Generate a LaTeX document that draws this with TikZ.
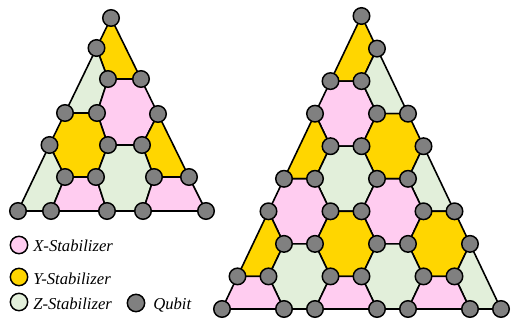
\documentclass[tikz,border=0pt]{standalone}
\usepackage{fontspec}
\setmainfont{Liberation Serif}
\usepackage{tikz}

\definecolor{xpink}{RGB}{255,204,240}
\definecolor{ygold}{RGB}{255,214,0}
\definecolor{zgreen}{RGB}{226,239,218}
\definecolor{qgray}{RGB}{128,128,128}

\begin{document}
\begin{tikzpicture}[x=0.75pt,y=0.75pt,yscale=-1,xscale=1,
  face/.style={draw=black,line width=1.2pt,line join=round},
  xstab/.style={face,fill=xpink},
  ystab/.style={face,fill=ygold},
  zstab/.style={face,fill=zgreen},
  qubit/.style={circle,draw=black,fill=qgray,line width=1.1pt,inner sep=0pt,minimum size=12.4pt},
  keydot/.style={circle,draw=black,line width=1.1pt,inner sep=0pt,minimum size=13pt},
  keytext/.style={anchor=base west,inner sep=0.75pt,font=\fontsize{12.5}{15}\selectfont\itshape}]
\useasboundingbox (0,0) rectangle (511,323);

%Qubits: small patch
\coordinate (p01) at (111,18);
\coordinate (p11) at (96.5,48);
\coordinate (p21) at (108,79);   \coordinate (p22) at (141,79);
\coordinate (p31) at (65,113);   \coordinate (p32) at (97,113);   \coordinate (p33) at (158,114);
\coordinate (p41) at (49.5,145); \coordinate (p42) at (108,145);  \coordinate (p43) at (142,145);
\coordinate (p51) at (65,177);   \coordinate (p52) at (96,177);   \coordinate (p53) at (154,177);  \coordinate (p54) at (189,177);
\coordinate (p61) at (18,211);   \coordinate (p62) at (51,211);   \coordinate (p63) at (107,211);  \coordinate (p64) at (143,211);  \coordinate (p65) at (206,211);

%Qubits: large patch
\coordinate (q01) at (361.5,16);
\coordinate (q11) at (377,48.6);
\coordinate (q21) at (330.5,81.1); \coordinate (q22) at (361.5,81.1);
\coordinate (q31) at (315,113.7);  \coordinate (q32) at (377,113.7);  \coordinate (q33) at (408,113.7);
\coordinate (q41) at (330.5,146.2); \coordinate (q42) at (361.5,146.2); \coordinate (q43) at (423.5,146.2);
\coordinate (q51) at (284,178.8);  \coordinate (q52) at (315,178.8);  \coordinate (q53) at (377,178.8);  \coordinate (q54) at (408,178.8);
\coordinate (q61) at (268.5,211.3); \coordinate (q62) at (330.5,211.3); \coordinate (q63) at (361.5,211.3); \coordinate (q64) at (423.5,211.3); \coordinate (q65) at (454.5,211.3);
\coordinate (q71) at (284,243.9);  \coordinate (q72) at (315,243.9);  \coordinate (q73) at (377,243.9);  \coordinate (q74) at (408,243.9);  \coordinate (q75) at (470,243.9);
\coordinate (q81) at (237.5,276.4); \coordinate (q82) at (268.5,276.4); \coordinate (q83) at (330.5,276.4); \coordinate (q84) at (361.5,276.4); \coordinate (q85) at (423.5,276.4); \coordinate (q86) at (454.5,276.4);
\coordinate (q91) at (222,309);    \coordinate (q92) at (284,309);    \coordinate (q93) at (315,309);    \coordinate (q94) at (377,309);    \coordinate (q95) at (408,309);    \coordinate (q96) at (470,309);    \coordinate (q97) at (501,309);

%Stabilizers: small patch
\draw [ystab] (p01) -- (p11) -- (p21) -- (p22) -- cycle;
\draw [zstab] (p11) -- (p21) -- (p32) -- (p31) -- cycle;
\draw [xstab] (p21) -- (p22) -- (p33) -- (p43) -- (p42) -- (p32) -- cycle;
\draw [ystab] (p31) -- (p32) -- (p42) -- (p52) -- (p51) -- (p41) -- cycle;
\draw [ystab] (p33) -- (p54) -- (p53) -- (p43) -- cycle;
\draw [zstab] (p41) -- (p51) -- (p62) -- (p61) -- cycle;
\draw [xstab] (p51) -- (p52) -- (p63) -- (p62) -- cycle;
\draw [zstab] (p42) -- (p43) -- (p53) -- (p64) -- (p63) -- (p52) -- cycle;
\draw [xstab] (p53) -- (p54) -- (p65) -- (p64) -- cycle;

%Stabilizers: large patch
\draw [ystab] (q01) -- (q11) -- (q22) -- (q21) -- cycle;
\draw [xstab] (q21) -- (q22) -- (q32) -- (q42) -- (q41) -- (q31) -- cycle;
\draw [zstab] (q11) -- (q33) -- (q32) -- (q22) -- cycle;
\draw [ystab] (q31) -- (q41) -- (q52) -- (q51) -- cycle;
\draw [ystab] (q32) -- (q33) -- (q43) -- (q54) -- (q53) -- (q42) -- cycle;
\draw [zstab] (q41) -- (q42) -- (q53) -- (q63) -- (q62) -- (q52) -- cycle;
\draw [zstab] (q43) -- (q65) -- (q64) -- (q54) -- cycle;
\draw [xstab] (q51) -- (q52) -- (q62) -- (q72) -- (q71) -- (q61) -- cycle;
\draw [xstab] (q53) -- (q54) -- (q64) -- (q74) -- (q73) -- (q63) -- cycle;
\draw [ystab] (q62) -- (q63) -- (q73) -- (q84) -- (q83) -- (q72) -- cycle;
\draw [ystab] (q64) -- (q65) -- (q75) -- (q86) -- (q85) -- (q74) -- cycle;
\draw [ystab] (q61) -- (q71) -- (q82) -- (q81) -- cycle;
\draw [zstab] (q71) -- (q72) -- (q83) -- (q93) -- (q92) -- (q82) -- cycle;
\draw [zstab] (q73) -- (q74) -- (q85) -- (q95) -- (q94) -- (q84) -- cycle;
\draw [zstab] (q75) -- (q97) -- (q96) -- (q86) -- cycle;
\draw [xstab] (q81) -- (q82) -- (q92) -- (q91) -- cycle;
\draw [xstab] (q83) -- (q84) -- (q94) -- (q93) -- cycle;
\draw [xstab] (q85) -- (q86) -- (q96) -- (q95) -- cycle;

%Qubit circles on top
\foreach \q in {p01,p11,p21,p22,p31,p32,p33,p41,p42,p43,p51,p52,p53,p54,p61,p62,p63,p64,p65,
  q01,q11,q21,q22,q31,q32,q33,q41,q42,q43,q51,q52,q53,q54,q61,q62,q63,q64,q65,
  q71,q72,q73,q74,q75,q81,q82,q83,q84,q85,q86,q91,q92,q93,q94,q95,q96,q97}
  \node [qubit] (n\q) at (\q) {};

%Legend
\node [keydot,fill=xpink] (xkey) at (19,245) {};
\node [keydot,fill=ygold] (ykey) at (19,277) {};
\node [keydot,fill=zgreen] (zkey) at (19,302) {};
\node [keydot,fill=qgray] (qkey) at (136,303) {};
% Text Node
\node [keytext] (xlabel) at (32,252) {X-Stabilizer};
% Text Node
\node [keytext] (ylabel) at (32,285) {Y-Stabilizer};
% Text Node
\node [keytext] (zlabel) at (32,310) {Z-Stabilizer};
% Text Node
\node [keytext] (qlabel) at (152,310) {Qubit};

\end{tikzpicture}
\end{document}
